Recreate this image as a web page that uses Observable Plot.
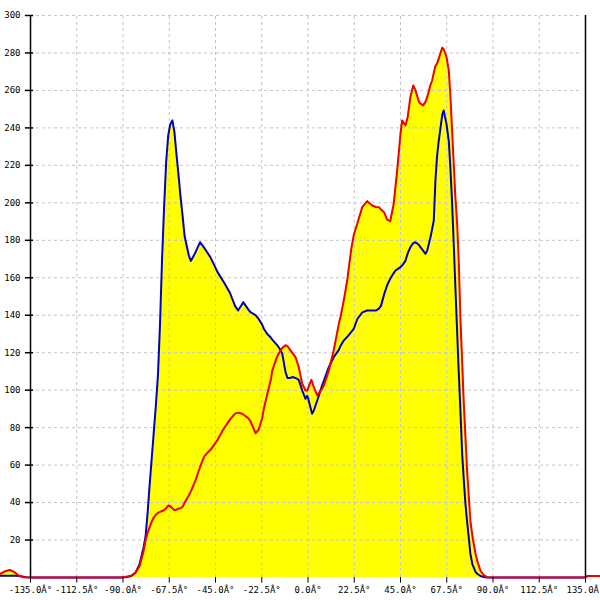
<!DOCTYPE html>
<html>
<head>
<meta charset="utf-8">
<script src="https://cdn.jsdelivr.net/npm/d3@7"></script>
<script src="https://cdn.jsdelivr.net/npm/@observablehq/plot@0.6"></script>
<style>
  html, body { margin: 0; padding: 0; background: #fff; }
  #chart svg { display: block; }
</style>
</head>
<body>
<div id="chart"></div>
<script>
// Angle samples (degrees) shared by both series
const angles = [-149.6, -147, -145, -143, -141, -139, -137, -135, -120, -100, -91, -88, -86, -84, -82, -80, -79, -78, -77, -76, -75, -74, -73, -72, -71, -70, -69, -68, -67, -66, -65, -64, -63, -62, -61, -60, -58, -57, -55, -52.5, -50.5, -49, -47.5, -44, -41, -38, -35.5, -34, -32, -31.5, -29, -28, -25.5, -24, -22.3, -21.5, -19.8, -18, -17.4, -15, -14, -12.5, -11, -10, -8.5, -7.7, -6, -4.5, -2.8, -1.2, -0.4, 0, 1.6, 2, 2.8, 4.5, 7, 7.7, 10, 12.5, 15, 16, 17.4, 19, 21, 22.3, 24, 26.4, 28.8, 31.2, 33, 34.5, 35.5, 37, 38.5, 40, 41.7, 42.6, 43.4, 45, 45.8, 47.4, 48.5, 49.8, 51.2, 52.3, 54, 54.7, 56, 57.2, 58, 59.6, 60.4, 61.2, 62, 62.8, 63.6, 65.3, 66, 67.4, 68.5, 69.3, 70.1, 70.9, 71.7, 72.6, 73.3, 74.2, 75, 75.8, 76.6, 77.4, 79, 80, 81.5, 82.3, 83.9, 85.5, 87.2, 89, 100, 120, 135, 136, 142.3];

const blueValues = [1, 1, 1, 1, 0.8, 0.5, 0.2, 0, 0, 0, 0, 0.2, 0.8, 2.5, 7, 16, 22, 35, 50, 64, 78, 92, 108, 135, 170, 198, 222, 236, 242, 244, 238, 226, 215, 203, 193, 182, 172, 169, 173, 179, 176, 173.5, 171, 163, 157.7, 152, 145, 142.5, 146, 147, 143, 141.6, 140, 138, 135, 132.8, 130, 128, 127, 124, 122.5, 119.4, 110, 106.5, 106.5, 107, 106.5, 105.5, 99.8, 95.4, 97, 96, 89, 87.4, 89, 94.5, 103, 105, 112, 117.6, 121.5, 124, 126.5, 128.3, 131, 132.8, 138, 141.5, 142.5, 142.5, 142.5, 143.5, 145, 151, 156, 159.5, 162.5, 163.9, 164.5, 165.7, 166.5, 169, 173, 176.3, 178.5, 179, 177.5, 176.3, 174.5, 172.8, 174.5, 181.7, 186, 190.6, 212, 225, 233, 247, 249.3, 242, 233, 218, 200, 178, 155, 130, 110.5, 88, 66, 52, 39.3, 30, 12.7, 7, 3, 2, 0.8, 0.2, 0, 0, 0, 0, 0, 0.8, 0.8];

const redValues = [2, 3.5, 4, 3, 1.2, 0.3, 0, 0, 0, 0, 0, 0.5, 1, 2.5, 6, 14, 20, 24, 27, 30, 32, 33.5, 34.5, 35, 35.5, 36, 37, 38.4, 38, 37, 36, 36.2, 36.8, 37, 37.8, 40, 43.8, 46, 51, 59, 64.5, 66.5, 68, 73.5, 79.4, 84.3, 87.5, 88, 87.4, 87, 85, 83.5, 77, 79, 85, 90, 98, 106, 110.5, 118, 120, 122.5, 124, 123.5, 121.2, 120, 117.5, 112.3, 103.4, 99.8, 99.8, 101, 105.5, 104.5, 101.6, 97.2, 101, 102.5, 110, 121.2, 135.4, 140, 147.9, 158, 175, 183, 189, 197.7, 200.9, 198.6, 197.8, 197.7, 196.5, 195, 191, 190.2, 199.5, 209, 217.3, 236.9, 244, 241.3, 245.8, 256.4, 262.7, 260, 253.8, 253, 252, 254, 256.4, 263, 265.3, 269.5, 273, 274.3, 277, 282.8, 282, 277.8, 270.7, 256.4, 238.7, 220.9, 203, 188, 170, 137, 115, 92.7, 75, 57.1, 30.4, 22, 12.7, 9, 3.7, 1.2, 0.2, 0, 0, 0, 0, 0.8, 0.8];

const xTicks = [-135, -112.5, -90, -67.5, -45, -22.5, 0, 22.5, 45, 67.5, 90, 112.5, 135];
const xTickLabels = ["-135.0Â°", "-112.5Â°", "-90.0Â°", "-67.5Â°", "-45.0Â°", "-22.5Â°", "0.0Â°", "22.5Â°", "45.0Â°", "67.5Â°", "90.0Â°", "112.5Â°", "135.0Â°"];
const yTicks = [20, 40, 60, 80, 100, 120, 140, 160, 180, 200, 220, 240, 260, 280, 300];
const yTickLabels = ["20", "40", "60", "80", "100", "120", "140", "160", "180", "200", "220", "240", "260", "280", "300"];

const rows = angles.map((a, i) => ({angle: a, blue: blueValues[i], red: redValues[i], top: Math.max(blueValues[i], redValues[i])}));
const xRows = xTicks.map((v, i) => ({v, label: xTickLabels[i]}));
const yRows = yTicks.map((v, i) => ({v, label: yTickLabels[i]}));

const xMin = -135, xMax = 135;
const font = "'DejaVu Sans Mono', monospace";

const chart = Plot.plot({
  width: 600,
  height: 600,
  marginTop: 15,
  marginBottom: 23,
  marginLeft: 0,
  marginRight: 0,
  x: {domain: [-149.6, 142.3], axis: null},
  y: {domain: [0, 300], axis: null},
  style: {background: "#fff", fontFamily: font, overflow: "visible"},
  marks: [
    // yellow fill under the envelope of both curves
    Plot.areaY(rows, {x: "angle", y1: 0, y2: "top", fill: "#ffff00"}),
    // dashed grid
    Plot.ruleY(yRows, {y: "v", x1: xMin, x2: xMax - 1.5, stroke: "#c4c4c4", strokeWidth: 1, strokeDasharray: "3,3"}),
    Plot.ruleX(xTicks.filter(v => v > xMin && v < xMax), {x: d => d, y1: 0, y2: 300, stroke: "#c4c4c4", strokeWidth: 1, strokeDasharray: "3,3"}),
    // curves
    Plot.line(rows, {x: "angle", y: "blue", stroke: "#0000c8", strokeWidth: 2}),
    Plot.line(rows, {x: "angle", y: "red", stroke: "#f00000", strokeWidth: 2}),
    // axes frame
    Plot.ruleX([xMin], {y1: 0, y2: 300, stroke: "#000", strokeWidth: 1.5}),
    Plot.ruleX([xMax], {y1: 0, y2: 300, stroke: "#000", strokeWidth: 1.5}),
    // tick marks
    Plot.ruleY(yRows, {y: "v", x1: xMin - 2.5, x2: xMin + 1.5, stroke: "#000", strokeWidth: 1.5}),
    Plot.ruleX(xRows, {x: "v", y1: 0, y2: -3, stroke: "#000", strokeWidth: 1}),
    // tick labels
    Plot.text(yRows, {x: xMin, y: "v", text: "label", dx: -10, textAnchor: "end", fontSize: 9, fill: "#000", fontFamily: font}),
    Plot.text(xRows, {x: "v", y: 0, text: "label", dy: 13, textAnchor: "middle", fontSize: 9, fill: "#000", fontFamily: font})
  ]
});
document.getElementById("chart").appendChild(chart);
</script>
</body>
</html>
